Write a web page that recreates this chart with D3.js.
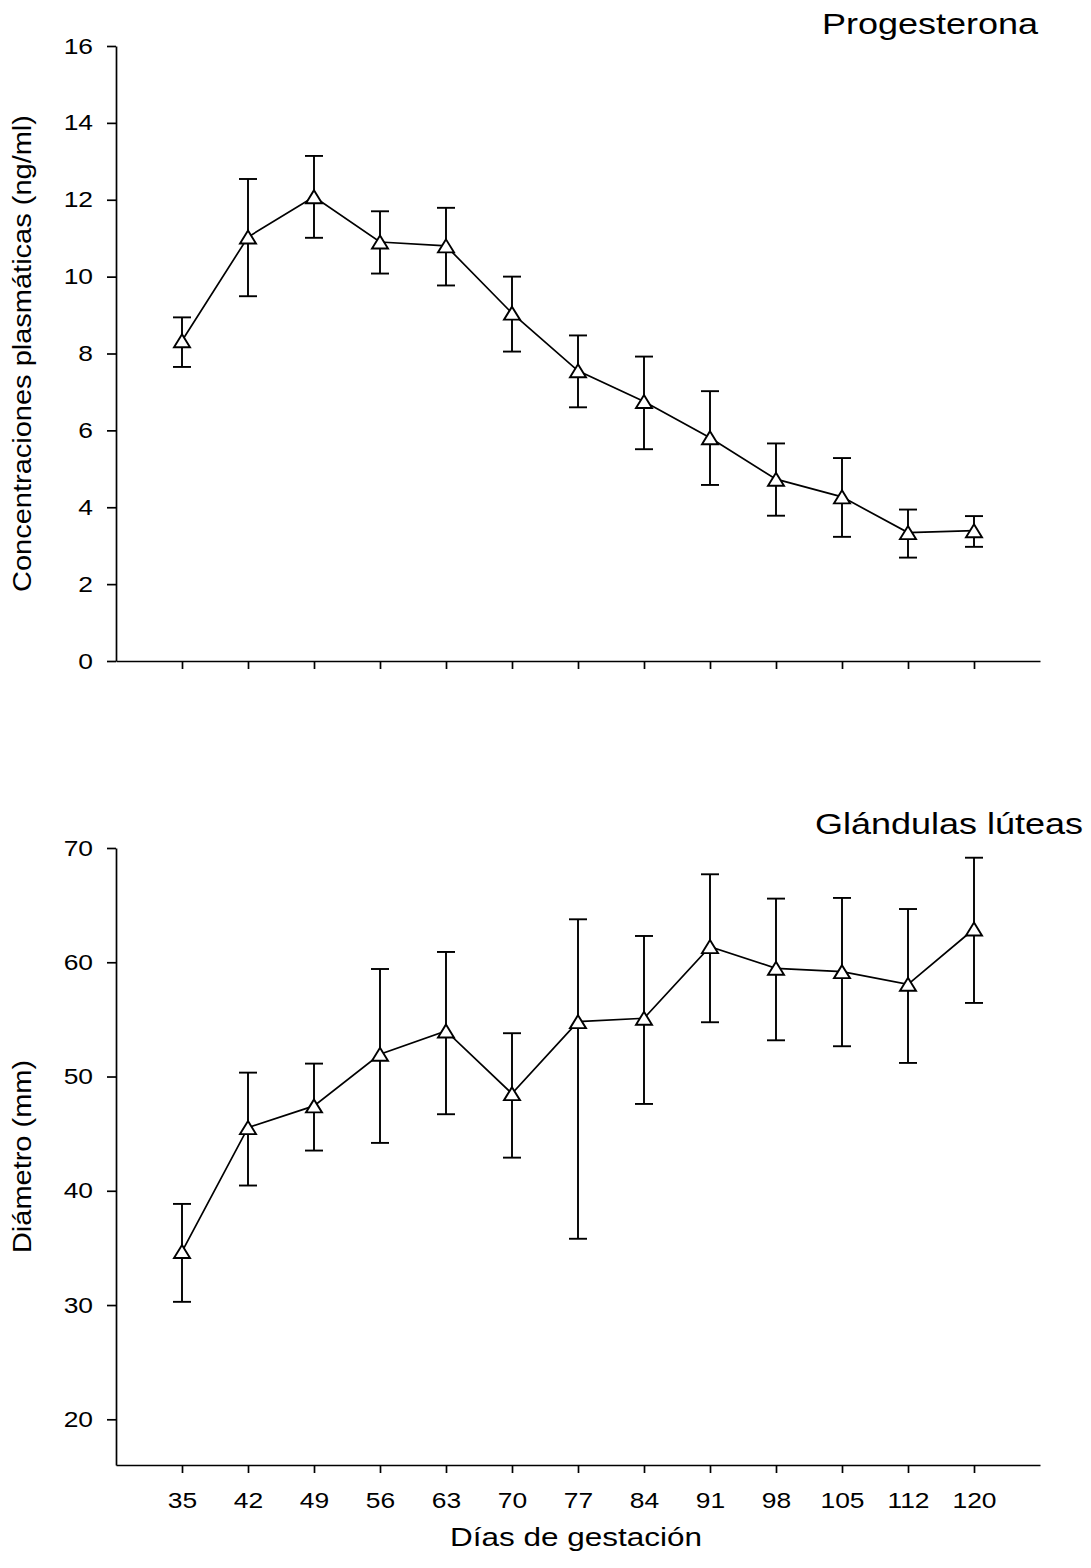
<!DOCTYPE html>
<html><head><meta charset="utf-8">
<script src="https://cdn.jsdelivr.net/npm/d3@7"></script>
<style>html,body{margin:0;padding:0;background:#fff;}svg{display:block;font-family:"Liberation Sans",Arial,sans-serif;}</style>
</head><body>
<svg id="chart" width="1091" height="1568"></svg>
<script>
const days = ["35","42","49","56","63","70","77","84","91","98","105","112","120"];
const progMean  = [8.33, 11.03, 12.08, 10.90, 10.80, 9.05, 7.55, 6.75, 5.81, 4.73, 4.27, 3.34, 3.39];
const progUpper = [8.94, 12.54, 13.14, 11.70, 11.79, 10.00, 8.47, 7.92, 7.02, 5.66, 5.28, 3.94, 3.77];
const progLower = [7.65, 9.49, 11.01, 10.08, 9.77, 8.05, 6.60, 5.51, 4.58, 3.78, 3.23, 2.69, 2.97];
const lutMean  = [34.68, 45.53, 47.43, 51.95, 53.99, 48.50, 54.80, 55.10, 61.37, 59.47, 59.18, 58.07, 62.91];
const lutUpper = [38.85, 50.34, 51.13, 59.41, 60.90, 53.79, 63.76, 62.30, 67.70, 65.57, 65.63, 64.66, 69.15];
const lutLower = [30.28, 40.46, 43.52, 44.19, 46.70, 42.90, 35.80, 47.60, 54.75, 53.17, 52.65, 51.19, 56.44];
const progTicks = [0,2,4,6,8,10,12,14,16];
const lutTicks = [20,30,40,50,60,70];

const SX = 1.2;
const svg = d3.select("#chart");
const x = d3.scalePoint().domain(days).range([116,1040]).padding(1);

function stretchTicks(g){
  g.selectAll(".tick text").each(function(){
    const t = d3.select(this);
    const tx = +t.attr("x") || 0;
    t.attr("transform", `translate(${tx},0) scale(${SX},1)`).attr("x",0);
  });
}

function panel(top, bottom, domain, ticks, mean, upper, lower, showLabels){
  const y = d3.scaleLinear().domain(domain).range([bottom, top]);
  const xa = svg.append("g").attr("transform",`translate(0,${bottom})`)
    .call(d3.axisBottom(x).tickSize(8).tickSizeOuter(0).tickFormat(showLabels ? (d=>d) : (()=>"")));
  xa.select(".domain").attr("stroke","#000").attr("stroke-width",1.7);
  xa.selectAll(".tick line").attr("stroke","#000").attr("stroke-width",1.7);
  xa.selectAll(".tick text").attr("y",43).attr("dy",0).attr("font-size",22).attr("fill","#000")
    .attr("font-family",'"Liberation Sans",Arial,sans-serif');
  stretchTicks(xa);
  const ya = svg.append("g").attr("transform","translate(116,0)")
    .call(d3.axisLeft(y).tickValues(ticks).tickSize(9).tickSizeOuter(0).tickPadding(14));
  ya.select(".domain").attr("stroke","#000").attr("stroke-width",1.7);
  ya.selectAll(".tick line").attr("stroke","#000").attr("stroke-width",1.7);
  ya.selectAll(".tick text").attr("font-size",22).attr("fill","#000")
    .attr("font-family",'"Liberation Sans",Arial,sans-serif');
  stretchTicks(ya);

  const data = days.map((d,i)=>({d, m:mean[i], u:upper[i], l:lower[i]}));
  const eb = svg.append("g").attr("stroke","#000").attr("stroke-width",1.9).attr("fill","none");
  data.forEach(p=>{
    const cx = x(p.d);
    eb.append("line").attr("x1",cx).attr("x2",cx).attr("y1",y(p.u)).attr("y2",y(p.l));
    eb.append("line").attr("x1",cx-9).attr("x2",cx+9).attr("y1",y(p.u)).attr("y2",y(p.u));
    eb.append("line").attr("x1",cx-9).attr("x2",cx+9).attr("y1",y(p.l)).attr("y2",y(p.l));
  });
  svg.append("path").datum(data)
    .attr("d", d3.line().x(p=>x(p.d)).y(p=>y(p.m)))
    .attr("fill","none").attr("stroke","#000").attr("stroke-width",1.7);
  svg.append("g").selectAll("path").data(data).join("path")
    .attr("transform", p=>`translate(${x(p.d)},${y(p.m)})`)
    .attr("d","M0,-6.5L8,6.5L-8,6.5Z")
    .attr("fill","#fff").attr("stroke","#000").attr("stroke-width",1.9).attr("stroke-linejoin","miter");
  return y;
}

panel(46, 661, [0,16], progTicks, progMean, progUpper, progLower, false);
panel(848, 1465, [16,70], lutTicks, lutMean, lutUpper, lutLower, true);

function label(txt, tx, ty, rot, size, anchor, sx){
  svg.append("text").text(txt)
    .attr("transform", `translate(${tx},${ty}) rotate(${rot}) scale(${sx},1)`)
    .attr("font-size", size).attr("text-anchor", anchor).attr("fill","#000");
}
label("Progesterona", 1038, 34, 0, 30, "end", SX);
label("Glándulas lúteas", 1083, 834, 0, 30, "end", SX);
label("Días de gestación", 576, 1546, 0, 25, "middle", 1.26);
label("Concentraciones plasmáticas (ng/ml)", 31, 353.5, -90, 25, "middle", 1.16);
label("Diámetro (mm)", 31, 1156.5, -90, 25, "middle", 1.16);
</script>
</body></html>
